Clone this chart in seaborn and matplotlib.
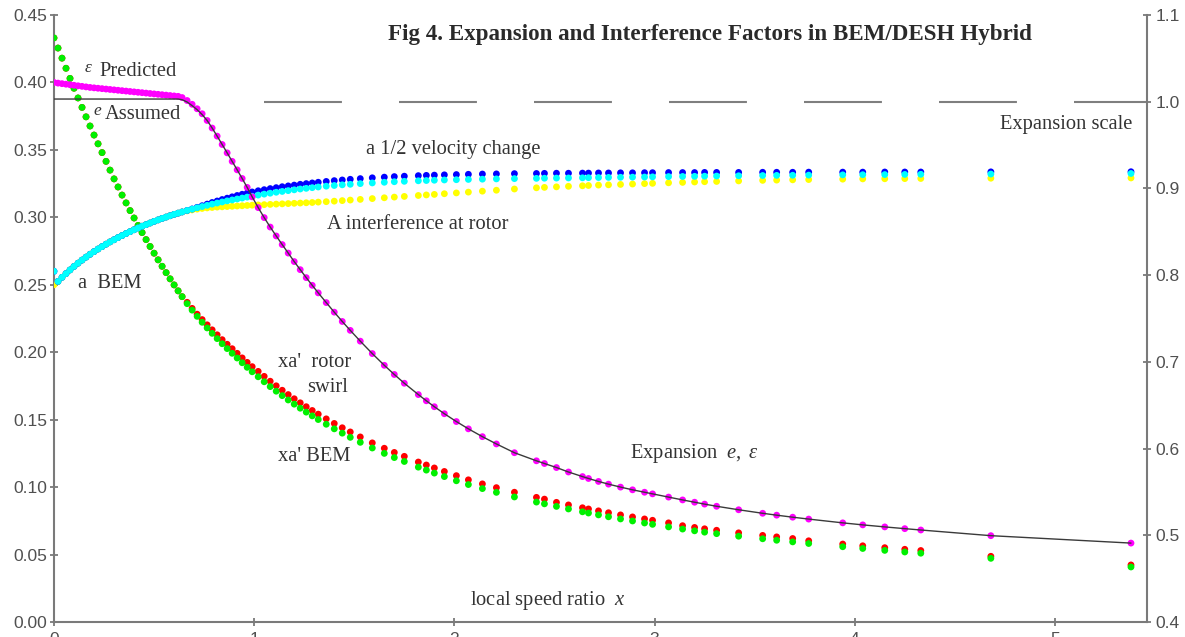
import matplotlib
matplotlib.use("Agg")
import matplotlib.pyplot as plt
import seaborn as sns

# ---------------- data ----------------
x_vals = [
    0.00, 0.02, 0.04, 0.06, 0.08, 0.10, 0.12, 0.14, 0.16, 0.18,
    0.20, 0.22, 0.24, 0.26, 0.28, 0.30, 0.32, 0.34, 0.36, 0.38,
    0.40, 0.42, 0.44, 0.46, 0.48, 0.50, 0.52, 0.54, 0.56, 0.58,
    0.60, 0.62, 0.64,
    0.665, 0.69, 0.715, 0.74, 0.765, 0.79, 0.815, 0.84, 0.865, 0.89,
    0.915, 0.94, 0.965, 0.99,
    1.02, 1.05, 1.08, 1.11, 1.14, 1.17, 1.20, 1.23, 1.26, 1.29,
    1.32, 1.36, 1.40, 1.44, 1.48, 1.53, 1.59, 1.65, 1.70, 1.75,
    1.82, 1.86, 1.90, 1.95, 2.01, 2.07, 2.14, 2.21, 2.30, 2.41,
    2.45, 2.51, 2.57, 2.64, 2.67, 2.72, 2.77, 2.83, 2.89, 2.95,
    2.99, 3.07, 3.14, 3.20, 3.25, 3.31, 3.42, 3.54, 3.61, 3.69,
    3.77, 3.94, 4.04, 4.15, 4.25, 4.33, 4.68, 5.38]

xa_bem = [
    .433, .4255, .418, .4105, .403, .3957, .3885, .3815, .3745, .3677,
    .361, .3545, .348, .3415, .335, .3285, .3225, .3165, .3107, .305,
    .2995, .294, .2887, .2835, .2784, .2734, .2685, .2637, .259, .2544,
    .2499, .2455, .2412,
    .236, .2312, .2266, .2222, .218, .214, .2101, .2063, .2027, .1992,
    .1957, .1922, .1888, .1855,
    .1818, .1781, .1745, .1711, .1678, .1646, .1615, .1585, .1556, .1528,
    .1501, .1466, .1432, .14, .1369, .1332, .129, .125, .1219, .119,
    .1148, .1126, .1104, .1078, .1047, .1019, .0989, .0961, .0927, .0889,
    .0876, .0857, .0838, .0817, .0808, .0794, .078, .0764, .0749, .0734,
    .0724, .0705, .0689, .0676, .0666, .0655, .0636, .0617, .0606, .0594,
    .0582, .0558, .0545, .0531, .0519, .051, .0472, .0408]

xa_rotor = [
    .433, .4255, .418, .4105, .403, .3957, .3885, .3815, .3745, .3677,
    .361, .3545, .348, .3415, .335, .3285, .3225, .3165, .3107, .305,
    .2995, .294, .2887, .2835, .2784, .2734, .2685, .2637, .259, .2544,
    .2499, .2455, .2412,
    .237, .2325, .2282, .2242, .2203, .2166, .2129, .2093, .2059, .2026,
    .1992, .1958, .1925, .1893,
    .1858, .1821, .1785, .1751, .1718, .1686, .1655, .1625, .1596, .1568,
    .1541, .1506, .1472, .144, .1409, .1372, .1328, .1288, .1257, .1228,
    .1186, .1164, .1142, .1116, .1085, .1054, .1024, .0996, .0962, .0924,
    .0911, .0887, .0868, .0847, .0838, .0824, .081, .0794, .0779, .0764,
    .0754, .0735, .0714, .0701, .0691, .068, .0661, .0642, .0631, .0619,
    .0602, .0578, .0565, .0551, .0539, .053, .0487, .0423]

eps_predicted = [
    .4, .3995, .3991, .3987, .3983, .3979, .3975, .3971, .3967, .3963,
    .396, .3957, .3954, .3951, .3948, .3945, .3942, .3939, .3936, .3933,
    .393, .3927, .3924, .3921, .3918, .3915, .3912, .3909, .3906, .3903,
    .39, .3897, .3888,
    .3866, .3838, .3805, .3768, .3718, .3662, .3602, .354, .3478, .3415,
    .3352, .3288, .3222, .3152,
    .3072, .2998, .2928, .2862, .2798, .2735, .2672, .2612, .2553, .2496,
    .244, .2368, .2297, .2228, .2162, .2082, .199, .1903, .1835, .177,
    .1686, .164, .1596, .1544, .1486, .1432, .1374, .132, .1255, .1195,
    .1175, .1145, .1112, .1078, .1064, .1042, .1022, .1, .098, .0962,
    .095, .0926, .0905, .0888, .0874, .0858, .0832, .0806, .0792, .0777,
    .0763, .0735, .072, .0705, .0692, .0682, .064, .0585]

e_assumed = [
    .3877, .3877, .3877, .3877, .3877, .3877, .3877, .3877, .3877, .3877,
    .3877, .3877, .3877, .3877, .3877, .3877, .3877, .3877, .3877, .3877,
    .3877, .3877, .3877, .3877, .3877, .3877, .3877, .3877, .3877, .3877,
    .3877, .3877, .3872,
    .3855, .3828, .3798, .3762, .3718, .3662, .3602, .354, .3478, .3415,
    .3352, .3288, .3222, .3152,
    .3072, .2998, .2928, .2862, .2798, .2735, .2672, .2612, .2553, .2496,
    .244, .2368, .2297, .2228, .2162, .2082, .199, .1903, .1835, .177,
    .1686, .164, .1596, .1544, .1486, .1432, .1374, .132, .1255, .1195,
    .1175, .1145, .1112, .1078, .1064, .1042, .1022, .1, .098, .0962,
    .095, .0926, .0905, .0888, .0874, .0858, .0832, .0806, .0792, .0777,
    .0763, .0735, .072, .0705, .0692, .0682, .064, .0585]

a_bem = [
    .26, .2525, .2555, .2583, .261, .2636, .266, .2683, .2705, .2726,
    .2746, .2765, .2783, .2801, .2818, .2834, .285, .2865, .288, .2894,
    .2908, .2921, .2934, .2946, .2958, .297, .2981, .2992, .3002, .3012,
    .3022, .3031, .304,
    .3051, .3061, .3071, .308, .3089, .3098, .3106, .3114, .3122, .3129,
    .3136, .3143, .315, .3156,
    .3165, .3172, .3179, .3186, .3192, .3198, .3204, .321, .3215, .322,
    .3225, .3231, .3236, .3241, .3245, .325, .3255, .326, .3264, .3267,
    .3271, .3273, .3275, .3277, .3279, .3281, .3283, .3285, .3287, .3289,
    .329, .3291, .3292, .3293, .3294, .3295, .3296, .3297, .3298, .3299,
    .33, .3302, .3303, .3304, .3305, .3306, .3308, .331, .3311, .3312,
    .3313, .3315, .3316, .3317, .3318, .3319, .3321, .3325]

a_half_velocity = [
    .26, .2525, .2555, .2583, .261, .2636, .266, .2683, .2705, .2726,
    .2746, .2765, .2783, .2801, .2818, .2834, .285, .2865, .288, .2894,
    .2908, .2921, .2934, .2946, .2958, .297, .2981, .2992, .3002, .3012,
    .3022, .3031, .304,
    .3051, .3062, .3074, .3086, .3098, .311, .3121, .3132, .3142, .3152,
    .3162, .3171, .318, .3188,
    .3197, .3205, .3213, .322, .3227, .3233, .3239, .3245, .325, .3255,
    .326, .3266, .3272, .3277, .3282, .3287, .3293, .3298, .3302, .3305,
    .3309, .3311, .3313, .3315, .3317, .3319, .3321, .3322, .3324, .3325,
    .3326, .3327, .3327, .3328, .3328, .3329, .3329, .333, .333, .3331,
    .3331, .3332, .3332, .3332, .3333, .3333, .3333, .3334, .3334, .3334,
    .3335, .3335, .3335, .3336, .3336, .3336, .3337, .3338]

A_rotor = [
    .25, .2525, .2555, .2583, .261, .2636, .266, .2683, .2705, .2726,
    .2746, .2765, .2783, .2801, .2818, .2834, .285, .2865, .288, .2894,
    .2908, .2921, .2934, .2946, .2958, .297, .2981, .2992, .3002, .3012,
    .3022, .3031, .304,
    .3048, .3055, .3061, .3066, .307, .3073, .3076, .3078, .308, .3082,
    .3084, .3086, .3088, .309,
    .3092, .3094, .3096, .3098, .31, .3102, .3104, .3106, .3108, .311,
    .3113, .3116, .312, .3124, .3128, .3133, .3139, .3145, .315, .3155,
    .3162, .3166, .317, .3175, .3181, .3187, .3194, .3201, .321, .3219,
    .3222, .3226, .323, .3234, .3236, .3239, .3241, .3244, .3247, .325,
    .3252, .3256, .3259, .3262, .3264, .3266, .327, .3274, .3276, .3278,
    .328, .3283, .3285, .3286, .3287, .3288, .329, .3292]

scale_x = [1.05, 5.46]
scale_val = [1.0, 1.0]

left_ticks = [0.00, 0.05, 0.10, 0.15, 0.20, 0.25, 0.30, 0.35, 0.40, 0.45]
right_ticks = [0.4, 0.5, 0.6, 0.7, 0.8, 0.9, 1.0, 1.1]
x_ticks = [0, 1, 2, 3, 4, 5]

# ---------------- style ----------------
sns.set_style("white")
plt.rcParams['font.family'] = ['Liberation Sans', 'DejaVu Sans']
plt.rcParams['mathtext.fontset'] = 'custom'
plt.rcParams['mathtext.rm'] = 'Liberation Serif'
plt.rcParams['mathtext.it'] = 'Liberation Serif:italic'

W, H = 1185, 637
fig = plt.figure(figsize=(W / 100, H / 100), dpi=100)
L, R, T, B = 54, 1147, 15, 622
ax = fig.add_axes([L / W, (H - B) / H, (R - L) / W, (B - T) / H])
ax2 = ax.twinx()

MS = 24
sns.scatterplot(x=x_vals, y=xa_rotor, color='#ff0000', s=MS, edgecolor='none', ax=ax, zorder=2)
sns.scatterplot(x=x_vals, y=xa_bem, color='#00f000', s=MS, edgecolor='none', ax=ax, zorder=3)
sns.scatterplot(x=x_vals, y=A_rotor, color='#ffff00', s=MS, edgecolor='none', ax=ax, zorder=4)
sns.scatterplot(x=x_vals, y=a_half_velocity, color='#0000ff', s=MS, edgecolor='none', ax=ax, zorder=5)
sns.scatterplot(x=x_vals, y=a_bem, color='#00ffff', s=MS, edgecolor='none', ax=ax, zorder=6)
sns.scatterplot(x=x_vals, y=eps_predicted, color='#ff00ff', s=MS, edgecolor='none', ax=ax, zorder=7)
sns.lineplot(x=x_vals, y=e_assumed, color='#3a3a3a', linewidth=1.0, ax=ax,
             estimator=None, sort=False, zorder=8)

sns.lineplot(x=scale_x, y=scale_val, color='#7f7f7f', linewidth=1.5, ax=ax2,
             estimator=None, sort=False)
ax2.lines[-1].set_dashes([37.4, 27.4])

ax.set_xlim(0, 5.46)
ax.set_ylim(0, 0.45)
ax2.set_ylim(0.4, 1.1)
ax.set_xticks(x_ticks)
ax.set_yticks(left_ticks)
ax.set_yticklabels([f"{v:.2f}" for v in left_ticks])
ax2.set_yticks(right_ticks)
ax2.set_yticklabels([f"{v:.1f}" for v in right_ticks])
ax.set_xticklabels([str(v) for v in x_ticks])

spine_c = '#7a7a7a'
for a in (ax, ax2):
    for s in a.spines.values():
        s.set_color(spine_c)
        s.set_linewidth(1.5)
    a.spines['top'].set_visible(False)
ax.spines['right'].set_visible(False)
ax2.spines['left'].set_visible(False)
ax2.spines['bottom'].set_visible(False)

tick_c = '#505050'
ax.tick_params(axis='y', direction='inout', length=6, width=1.3, color=spine_c,
               labelsize=12.5, labelcolor=tick_c, pad=2, left=True)
ax.tick_params(axis='x', direction='inout', length=6, width=1.3, color=spine_c,
               labelsize=12.5, labelcolor=tick_c, pad=4, bottom=True)
ax2.tick_params(axis='y', direction='inout', length=6, width=1.3, color=spine_c,
                labelsize=12.5, labelcolor=tick_c, pad=3, right=True)
ax.grid(False)
ax2.grid(False)
ax.set_xlabel('')
ax.set_ylabel('')
ax2.set_ylabel('')

# ---------------- text ----------------
serif = ['Liberation Serif', 'DejaVu Serif']
tc = '#333333'
fs = 14.8
ax.text(0.600, 0.968, 'Fig 4. Expansion and Interference Factors in BEM/DESH Hybrid',
        transform=ax.transAxes, ha='center', va='center', family=serif,
        fontsize=16.6, fontweight='bold', color='#2a2a2a')

ax.text(0.155, 0.411, 'ε', family=serif, style='italic', fontsize=12.5, color=tc,
        ha='left', va='center')
ax.text(0.228, 0.408, 'Predicted', family=serif, fontsize=fs, color=tc, ha='left', va='center')
ax.text(0.195, 0.379, 'e', family=serif, style='italic', fontsize=12.5, color=tc,
        ha='left', va='center')
ax.text(0.255, 0.376, 'Assumed', family=serif, fontsize=fs, color=tc, ha='left', va='center')

ax.text(1.56, 0.3506, 'a 1/2 velocity change', family=serif, fontsize=fs, color=tc,
        ha='left', va='center')
ax.text(1.364, 0.295, 'A interference at rotor', family=serif, fontsize=fs, color=tc,
        ha='left', va='center')
ax.text(0.12, 0.2513, 'a  BEM', family=serif, fontsize=fs, color=tc, ha='left', va='center')
ax.text(1.119, 0.1927, "xa'  rotor", family=serif, fontsize=fs, color=tc, ha='left', va='center')
ax.text(1.264, 0.1735, 'swirl', family=serif, fontsize=fs, color=tc, ha='left', va='center')
ax.text(1.119, 0.123, "xa' BEM", family=serif, fontsize=fs, color=tc, ha='left', va='center')
ax.text(2.877, 0.125, r'Expansion  $e,\ ε$', family=serif, fontsize=fs, color=tc,
        ha='left', va='center')
ax.text(4.725, 0.369, 'Expansion scale', family=serif, fontsize=fs, color=tc,
        ha='left', va='center')
ax.text(2.078, 0.0163, r'local speed ratio  $x$', family=serif, fontsize=fs, color=tc,
        ha='left', va='center')

fig.savefig('out.png', dpi=100)
